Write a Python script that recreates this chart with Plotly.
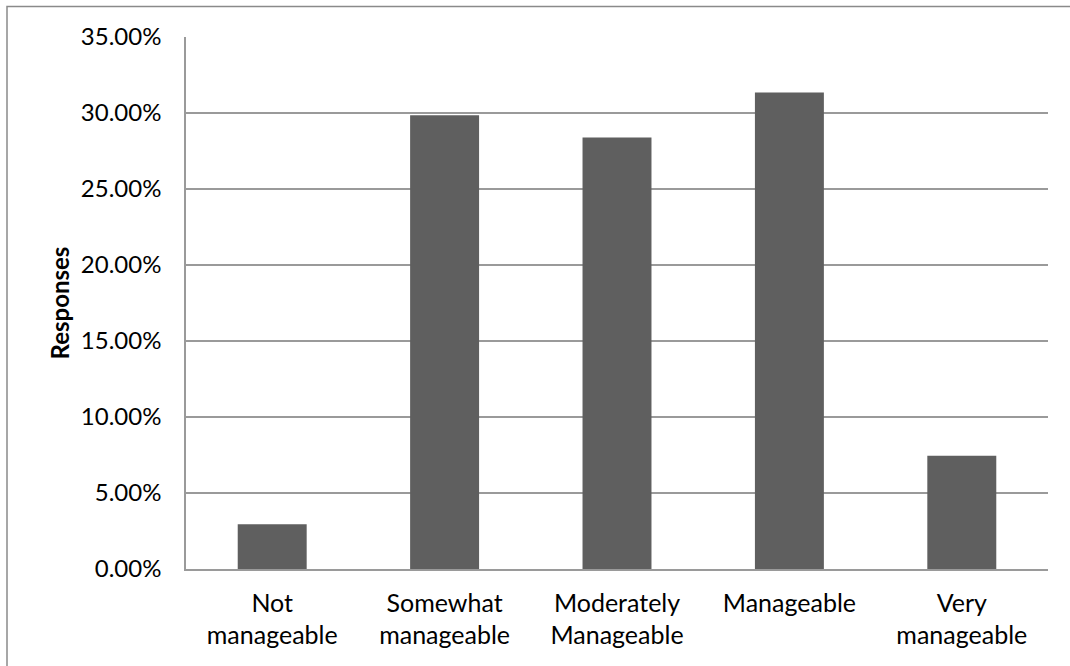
import plotly.graph_objects as go

# Survey results: how manageable respondents found the workload
categories = ["Not<br>manageable", "Somewhat<br>manageable", "Moderately<br>Manageable",
              "Manageable", "Very<br>manageable"]
shares = [0.0294, 0.2986, 0.2838, 0.3135, 0.0745]
y_ticks = [0, 0.05, 0.10, 0.15, 0.20, 0.25, 0.30, 0.35]

W, H = 1070, 666
L, R, T, B = 186, 22, 36.5, 96.5
pw, ph = W - L - R, H - T - B

grid = "#9a9a9a"
font = "Lato, 'Open Sans', sans-serif"

fig = go.Figure(go.Bar(
    x=categories, y=shares,
    marker=dict(color="#5f5f5f", line=dict(width=0)),
    width=0.4,
))

fig.update_layout(
    width=W, height=H,
    margin=dict(l=L, r=R, t=T, b=B, pad=0),
    paper_bgcolor="white", plot_bgcolor="white",
    font=dict(family=font, size=24, color="#000000"),
    showlegend=False,
    bargap=0.6,
    shapes=[
        # outer chart frame
        dict(type="rect", xref="paper", yref="paper",
             x0=(7 - L) / pw, x1=(W + 20 - L) / pw,
             y0=-(H + 20 - (H - B)) / ph, y1=1 + (T - 6) / ph,
             line=dict(color="#8a8a8a", width=1.5), layer="below"),
    ],
)

fig.update_xaxes(
    showgrid=False, showline=True, linecolor=grid, linewidth=1.5,
    mirror=False, ticks="", tickfont=dict(size=25),
    ticklabelstandoff=11,
)
fig.update_yaxes(
    range=[0, 0.35], tickvals=y_ticks, tickformat=".2%",
    showgrid=True, gridcolor=grid, gridwidth=1.5,
    showline=True, linecolor=grid, linewidth=1.5,
    zeroline=False, ticks="", ticklabelstandoff=18,
    tickfont=dict(size=24),
    title=dict(text="<b>Responses</b>", font=dict(size=24), standoff=4),
)

fig.write_html("out.html")
